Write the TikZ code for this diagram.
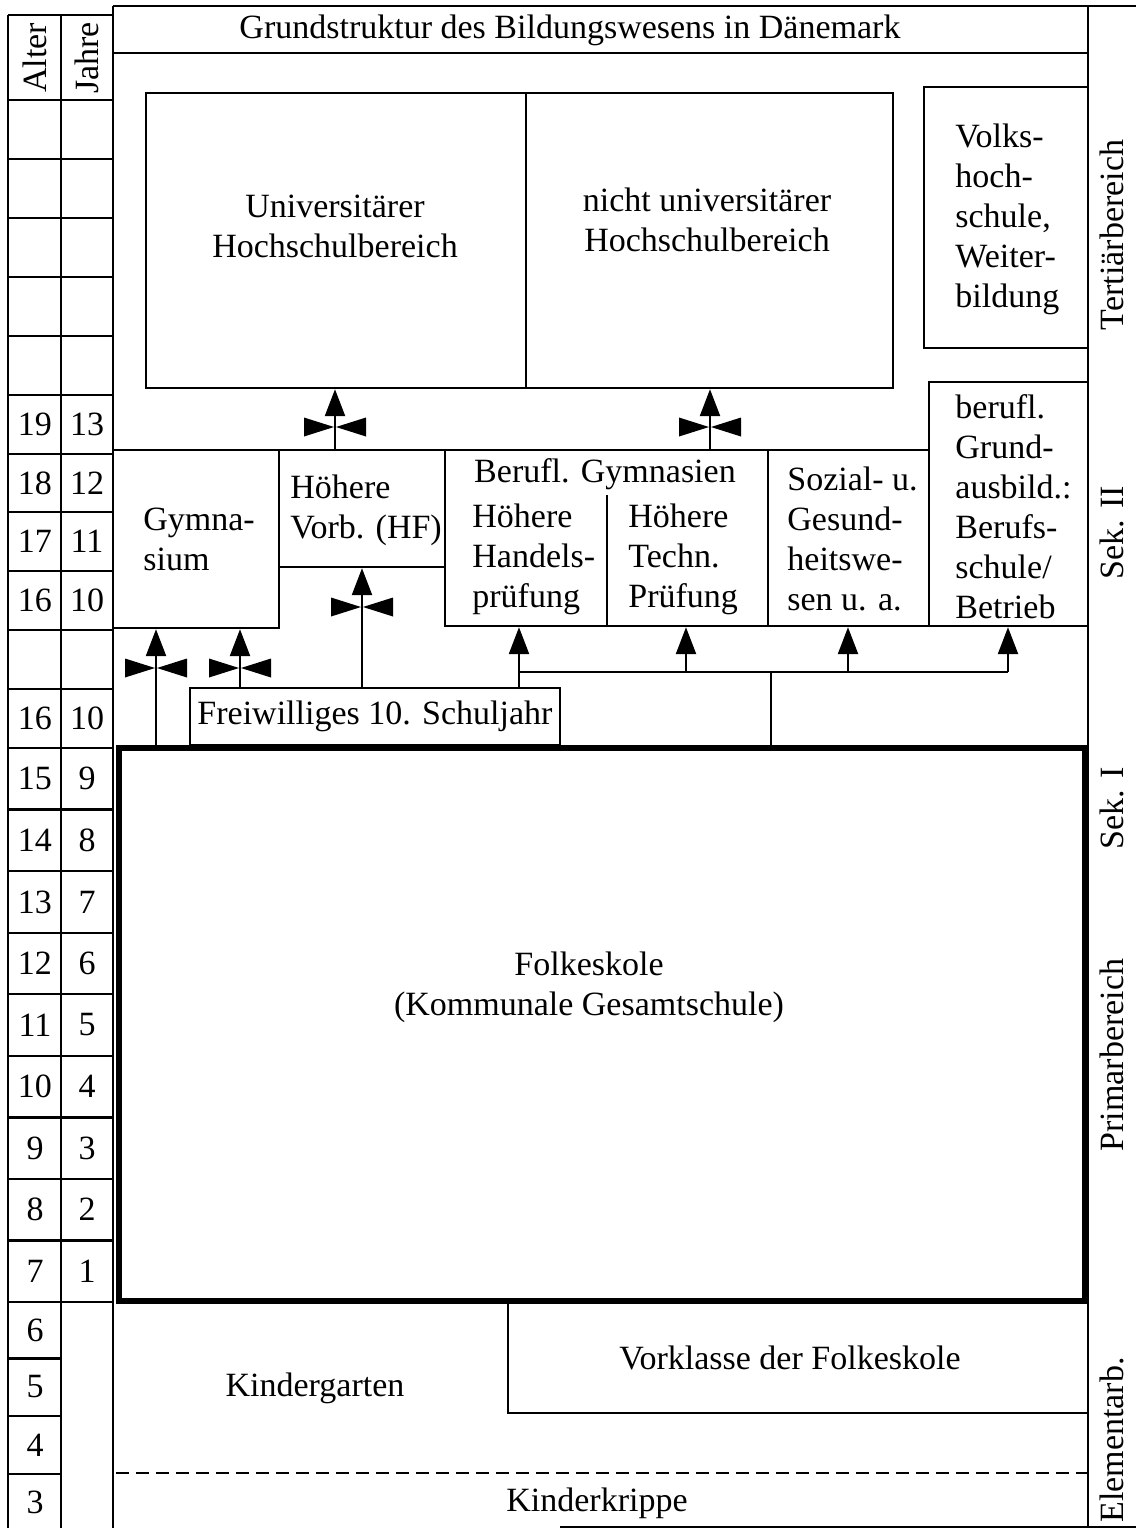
\documentclass[tikz,border=0pt]{standalone}
\usepackage{fontspec}
\setmainfont{Liberation Serif}
\usetikzlibrary{fit,arrows.meta}
\begin{document}
\begin{tikzpicture}[x=0.5pt,y=-0.5pt]
\tikzset{
  ln/.style={line width=1.2pt},
  box/.style={draw, ln, inner sep=0pt},
  txt/.style={font=\fontsize{17}{20}\selectfont, inner sep=0pt},
  arr/.style={ln, -{Triangle[length=13.5pt,width=10pt]}},
  bowtie/.pic={\fill (-31,-9.5) -- (-1,0) -- (-31,9.5) -- cycle;
               \fill (31,-9.5) -- (1,0) -- (31,9.5) -- cycle;},
}
\useasboundingbox (0,0) rectangle (1136,1528);
% frame
\draw[ln] (113,6) -- (1136,6);
\draw[ln] (113,6) -- (113,1528);
\draw[ln] (1088,6) -- (1088,1528);
\draw[ln] (113,53) -- (1088,53);
\draw[line width=1pt] (560,1527) -- (1136,1527);
% left columns
\draw[ln] (8,15) -- (113,15);
\draw[ln] (8,15) -- (8,1528);
\draw[ln] (61,15) -- (61,1528);
\foreach \y in {100,159,218,277,336,395,454,512,571,630,689,748,809.6,871.1,932.7,994.2,1055.8,1117.3,1178.9,1240.4,1302}
  \draw[ln] (8,\y) -- (113,\y);
\foreach \y in {1358.5,1416,1474}
  \draw[ln] (8,\y) -- (61,\y);
\node[txt, rotate=90] (alter) at (35,58) {Alter};
\node[txt, rotate=90] (jahre) at (87,58) {Jahre};
\foreach \a/\j/\y [count=\i] in {19/13/424.5, 18/12/483, 17/11/541.5, 16/10/600.5, 16/10/718.5,
   15/9/778.8, 14/8/840.4, 13/7/901.9, 12/6/963.5, 11/5/1025, 10/4/1086.6, 9/3/1148.1, 8/2/1209.7, 7/1/1271.2}
  { \node[txt] (age\i) at (35,\y) {\a}; \node[txt] (yr\i) at (87,\y) {\j}; }
\foreach \a/\y [count=\i] in {6/1330, 5/1387, 4/1445, 3/1502}
  { \node[txt] (sage\i) at (35,\y) {\a}; }
% title
\node[txt] (title) at (570,30) {Grundstruktur des Bildungswesens in Dänemark};
% tertiary
\node[box, fit={(146,93)(526,388)}] (uni) {};
\node[box, fit={(526,93)(893,388)}] (nuni) {};
\node[box, fit={(924,87)(1088,348)}] (vhs) {};
\node[txt, align=center] (unit) at (335,226) {Universitärer\\Hochschulbereich};
\node[txt, align=center] (nunit) at (707,220) {nicht universitärer\\Hochschulbereich};
\node[txt, align=left, anchor=west] (vhst) at (955,219) {Volks-\\hoch-\\schule,\\Weiter-\\bildung};
% Sek II
\node[box, fit={(929,382)(1088,626)}] (bgr) {};
\node[txt, align=left, anchor=west] (bgrt) at (955,507) {berufl.\\Grund-\\ausbild.:\\Berufs-\\schule/\\Betrieb};
\node[box, fit={(113,450)(279,628)}] (gym) {};
\node[box, fit={(279,450)(445,567)}] (hf) {};
\node[box, fit={(445,450)(768,626)}] (bgym) {};
\node[box, fit={(768,450)(929,626)}] (soz) {};
\draw[ln] (607,495) -- (bgym.south -| 607,0);
\node[txt, align=left, anchor=west] (gymt) at (143,539) {Gymna-\\sium};
\node[txt, align=left, anchor=west] (hft) at (290,510) {Höhere\\Vorb. (HF)};
\node[txt] (bgymt) at (605,474) {Berufl. Gymnasien};
\node[txt, align=left, anchor=west] (handt) at (472,559) {Höhere\\Handels-\\prüfung};
\node[txt, align=left, anchor=west] (techt) at (628,559) {Höhere\\Techn.\\Prüfung};
\node[txt, align=left, anchor=west] (sozt) at (787,539) {Sozial- u.\\Gesund-\\heitswe-\\sen u. a.};
% Freiwilliges
\node[box, fit={(190,688)(560,745)}] (frei) {};
\node[txt] (freit) at (frei.center) {Freiwilliges 10. Schuljahr};
% Folkeskole
\node[draw, inner sep=0pt, line width=3.2pt, fit={(119,748)(1085,1301)}] (folk) {};
\node[txt, align=center] (folkt) at (589,987) {Folkeskole\\(Kommunale Gesamtschule)};
% Elementar
\node[box, fit={(508,1302)(1088,1413)}] (vork) {};
\node[txt] (vorkt) at (790,1358) {Vorklasse der Folkeskole};
\node[txt] (kgt) at (315,1388) {Kindergarten};
\draw[ln, dash pattern=on 6.5pt off 3.5pt] (116,1473) -- (1088,1473);
\node[txt] (kkt) at (597,1503) {Kinderkrippe};
% right labels
\node[txt, rotate=90] (l1) at (1112,235) {Tertiärbereich};
\node[txt, rotate=90] (l2) at (1112,533) {Sek. II};
\node[txt, rotate=90] (l3) at (1112,808) {Sek. I};
\node[txt, rotate=90] (l4) at (1112,1055) {Primarbereich};
\node[txt, rotate=90] (l5) at (1112,1440) {Elementarb.};
% connectors
\foreach \xx in {156,240,335,362,519,686,710,771,848,1008}
  \coordinate (x\xx) at (\xx,0);
\coordinate (junc) at (771,672);
\draw[arr] (x335 |- gym.north) -- (x335 |- uni.south);
\path (335,427) pic {bowtie};
\draw[arr] (x710 |- bgym.north) -- (x710 |- nuni.south);
\path (710,427) pic {bowtie};
\draw[arr] (x362 |- frei.north) -- (x362 |- hf.south);
\path (362,607) pic {bowtie};
\draw[arr] (x156 |- folk.north) -- (x156 |- gym.south);
\path (156,668) pic {bowtie};
\draw[arr] (x240 |- frei.north) -- (x240 |- gym.south);
\path (240,668) pic {bowtie};
\draw[ln] (x771 |- folk.north) -- (junc);
\draw[ln] (x519 |- junc) -- (x1008 |- junc);
\draw[arr] (x519 |- frei.north) -- (x519 |- bgym.south);
\draw[arr] (x686 |- junc) -- (x686 |- bgym.south);
\draw[arr] (x848 |- junc) -- (x848 |- soz.south);
\draw[arr] (x1008 |- junc) -- (x1008 |- bgr.south);
\end{tikzpicture}
\end{document}
